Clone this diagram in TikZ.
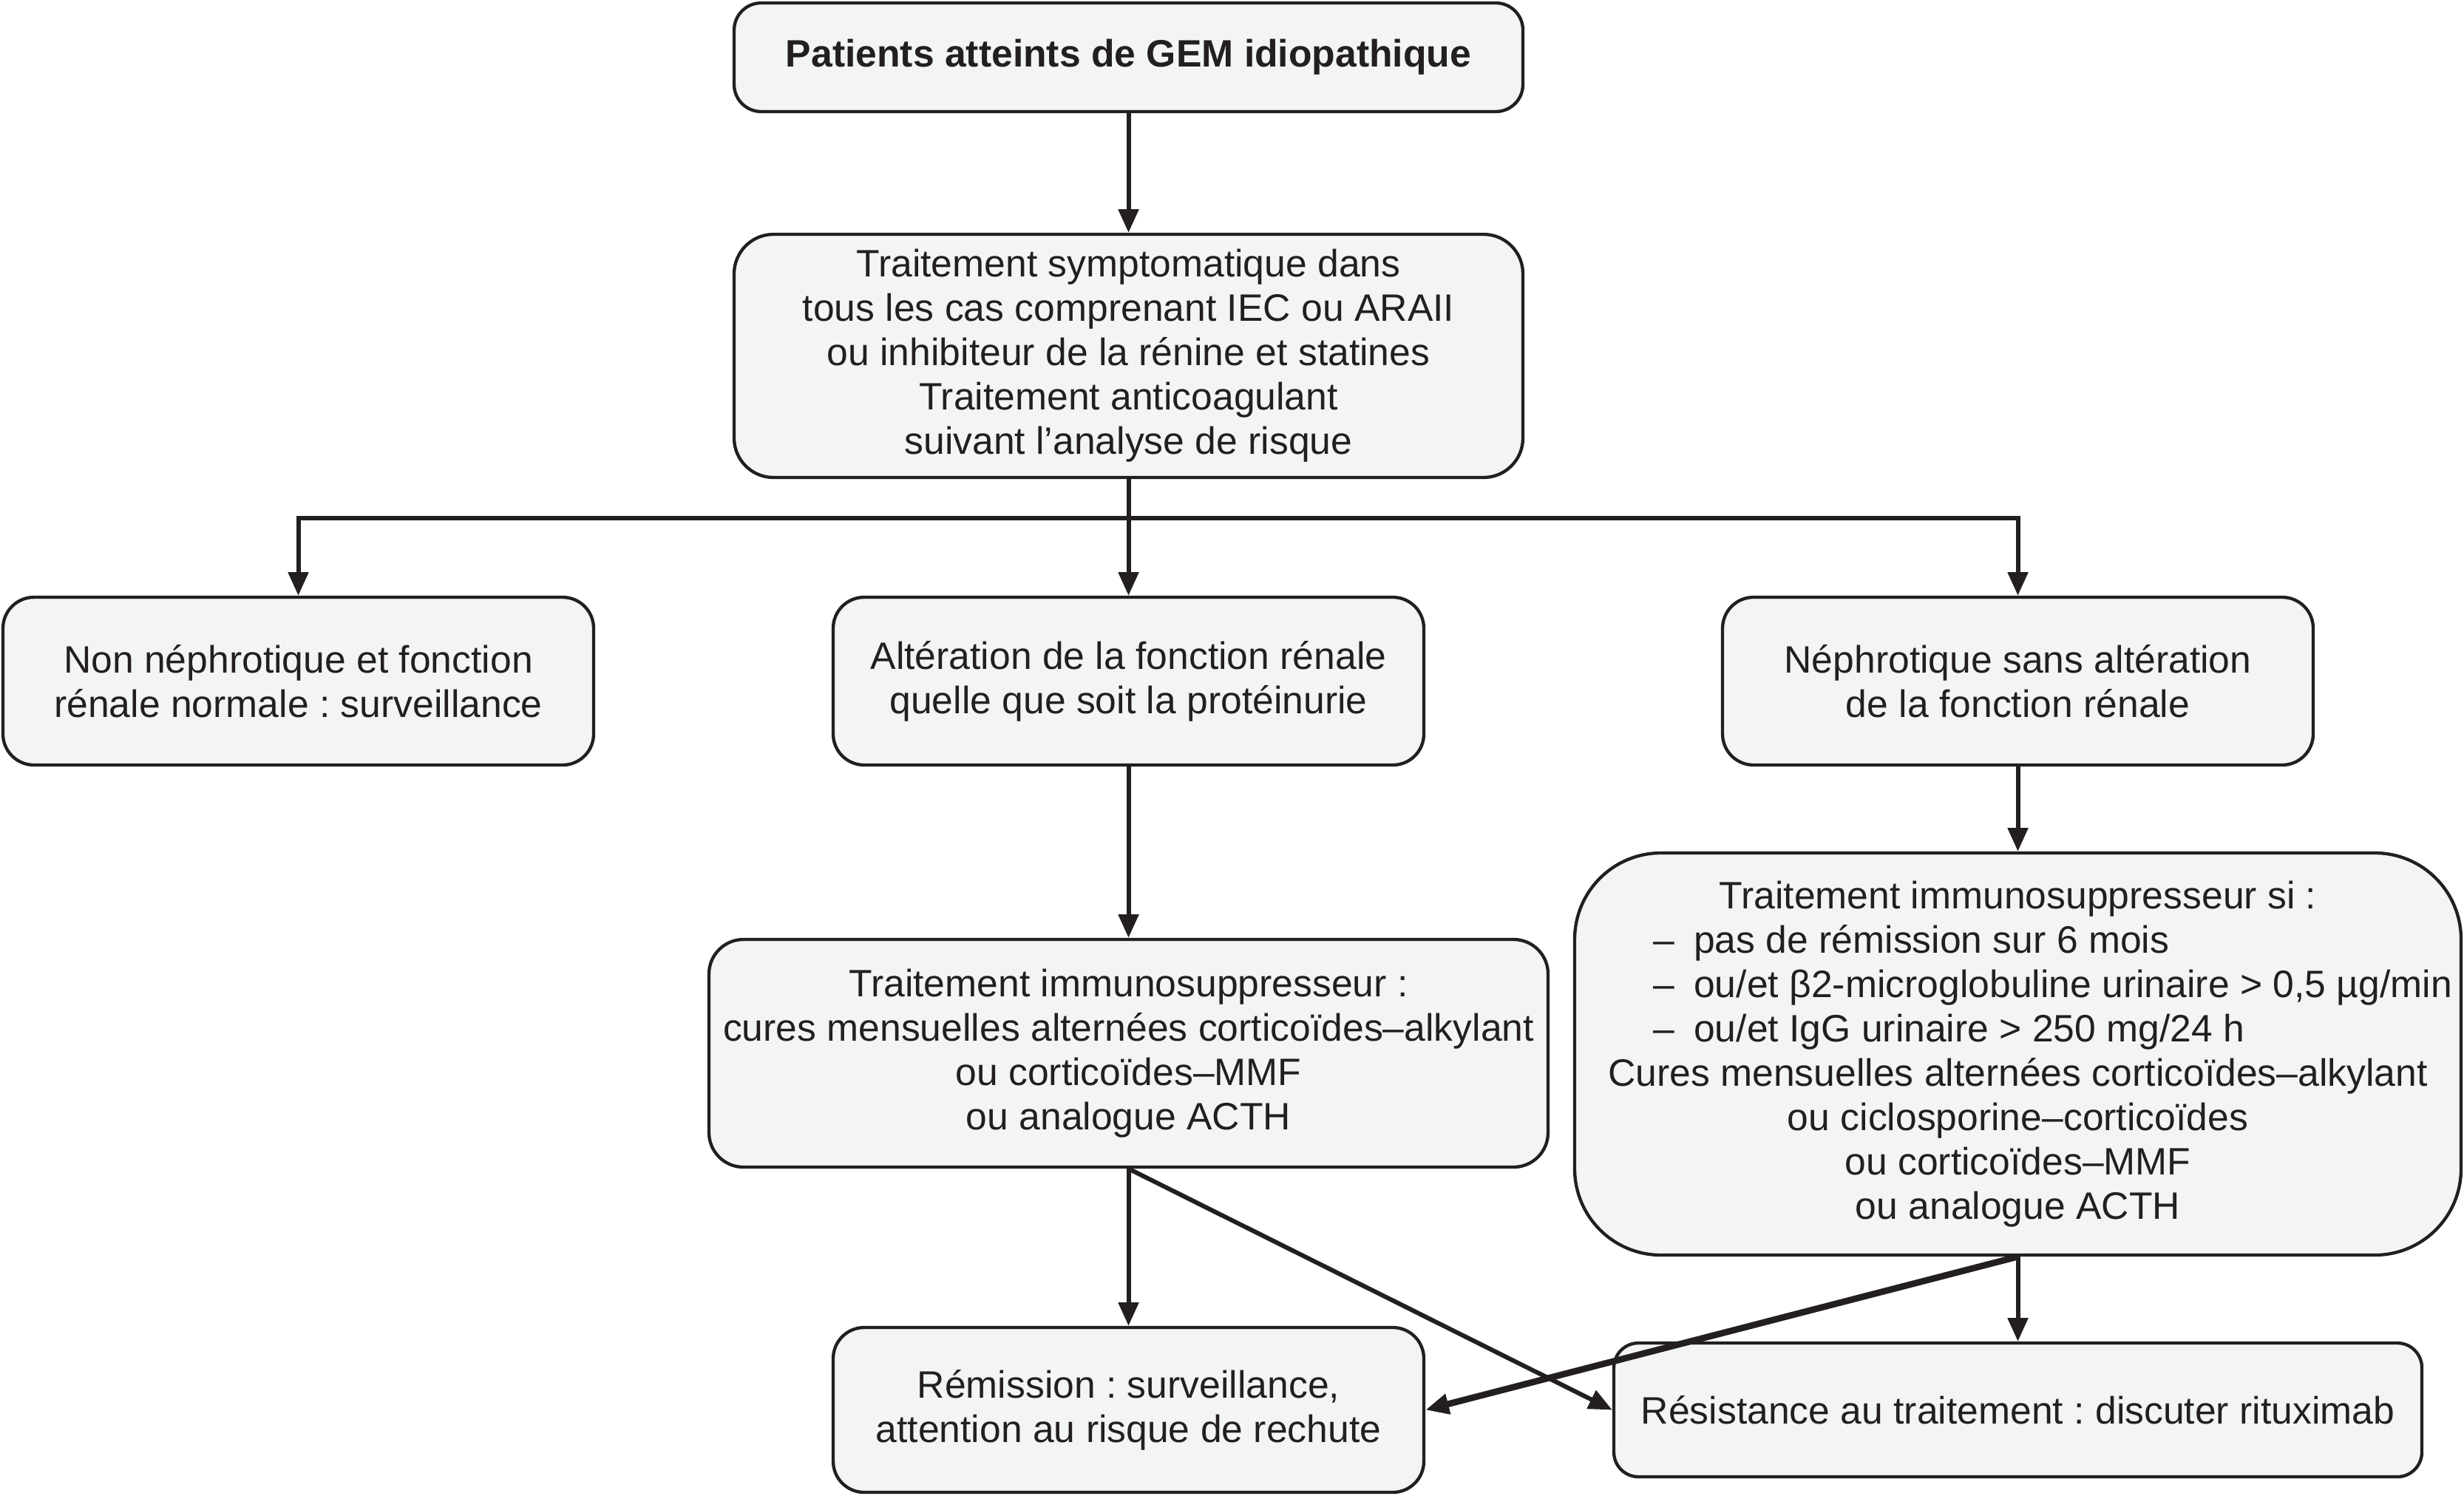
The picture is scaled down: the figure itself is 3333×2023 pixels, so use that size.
\documentclass[tikz,border=0pt]{standalone}
\usepackage{fontspec}
\setmainfont{Liberation Sans}
\frenchspacing
\usetikzlibrary{arrows.meta}
\definecolor{boxfill}{HTML}{F3F5F4}
\definecolor{ink}{HTML}{231F20}
\tikzset{
  box/.style={draw=ink, fill=boxfill, line width=1.3pt, align=center, inner sep=2pt,
    font=\fontsize{15.5pt}{18pt}\selectfont\frenchspacing, text=ink},
  line/.style={draw=ink, line width=1.8pt},
  conn/.style={line, -{Triangle[length=9.5pt,width=8pt]}},
}
\begin{document}
\begin{tikzpicture}[x=0.3pt,y=-0.3pt]
\fill[white] (0,0) rectangle (3333,2023);
\useasboundingbox (0,0) rectangle (3333,2023);

\node[box, minimum width=320.1pt, minimum height=44.1pt, rounded corners=11pt] (top) at (1526.5,77.5)
  {\bfseries Patients atteints de GEM idiopathique};
\node[box, minimum width=320.1pt, minimum height=98.7pt, rounded corners=16pt] (b2) at (1526.5,481.5)
  {Traitement symptomatique dans\\tous les cas comprenant IEC ou ARAII\\ou inhibiteur de la rénine et statines\\Traitement anticoagulant\\suivant l’analyse de risque};
\node[box, minimum width=239.7pt, minimum height=68.1pt, rounded corners=12.6pt] (L) at (403.5,921.5)
  {Non néphrotique et fonction\\rénale normale : surveillance};
\node[box, minimum width=239.7pt, minimum height=68.1pt, rounded corners=12.6pt] (M) at (1526.5,921.5)
  {Altération de la fonction rénale\\quelle que soit la protéinurie};
\node[box, minimum width=239.7pt, minimum height=68.1pt, rounded corners=12.6pt] (R) at (2729.5,921.5)
  {Néphrotique sans altération\\de la fonction rénale};
\node[box, minimum width=340.5pt, minimum height=92.4pt, rounded corners=14pt] (M2) at (1526.5,1425)
  {Traitement immunosuppresseur :\\cures mensuelles alternées corticoïdes–alkylant\\ou corticoïdes–MMF\\ou analogue ACTH};
\node[box, minimum width=359.7pt, minimum height=163.2pt, rounded corners=35pt] (R2) at (2729.5,1426)
  {Traitement immunosuppresseur si :\\
   \makebox[296pt][l]{\makebox[16.5pt][l]{–}pas de rémission sur 6 mois}\\
   \makebox[296pt][l]{\makebox[16.5pt][l]{–}ou/et β2-microglobuline urinaire > 0,5 µg/min}\\
   \makebox[296pt][l]{\makebox[16.5pt][l]{–}ou/et IgG urinaire > 250 mg/24 h}\\
   Cures mensuelles alternées corticoïdes–alkylant\\ou ciclosporine–corticoïdes\\ou corticoïdes–MMF\\ou analogue ACTH};
\node[box, minimum width=239.7pt, minimum height=66.9pt, rounded corners=12.6pt] (Rem) at (1526.5,1907.5)
  {Rémission : surveillance,\\attention au risque de rechute};
\node[box, minimum width=327.9pt, minimum height=54.3pt, rounded corners=10pt] (Res) at (2729.5,1907.5)
  {Résistance au traitement : discuter rituximab};

\coordinate (j) at (1526.5,701);
\draw[conn] (top) -- (b2);
\draw[line] (b2.south) -- (j);
\draw[conn] (j) -| (L.north);
\draw[conn] (j) -| (R.north);
\draw[conn] (j) -- (M.north);
\draw[conn] (M) -- (M2);
\draw[conn] (R) -- (R2);
\draw[conn] (M2) -- (Rem);
\draw[conn] (R2) -- (Res);
\draw[conn] (M2.south) -- (Res.west);
\draw[conn, line width=2.6pt] (R2.south) -- (Rem.east);
\end{tikzpicture}
\end{document}
